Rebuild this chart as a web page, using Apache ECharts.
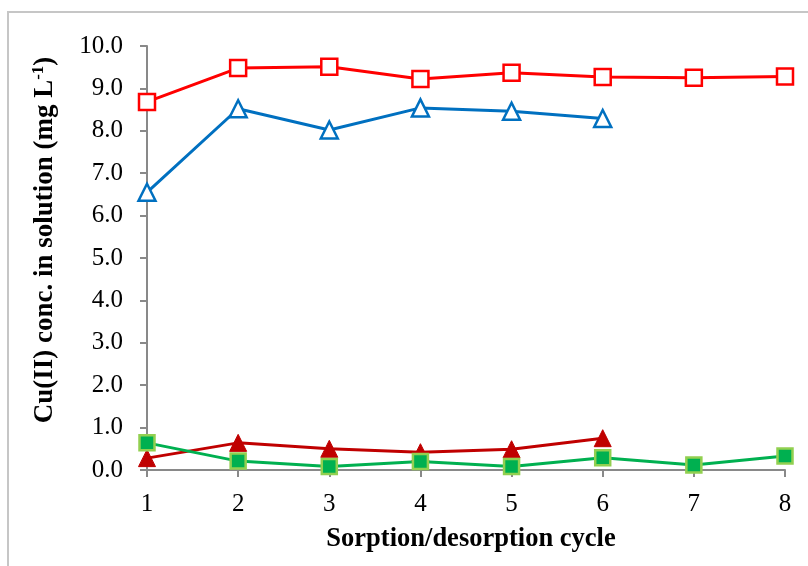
<!DOCTYPE html>
<html>
<head>
<meta charset="utf-8">
<script src="https://cdn.jsdelivr.net/npm/echarts@6/dist/echarts.min.js"></script>
<style>
  html, body { margin: 0; padding: 0; background: #fff; }
  #chart { width: 808px; height: 566px; }
</style>
</head>
<body>
<div id="chart"></div>
<script>
// Cycle numbers on the x axis
const cycles = [1, 2, 3, 4, 5, 6, 7, 8];
// Y axis tick values
const yTicks = [0, 1, 2, 3, 4, 5, 6, 7, 8, 9, 10];

// Cu(II) concentration per cycle (mg L-1)
const redOpenSquares = [8.68, 9.48, 9.51, 9.22, 9.37, 9.27, 9.25, 9.28];
const blueOpenTriangles = [6.55, 8.52, 8.02, 8.54, 8.46, 8.29];
const darkRedTriangles = [0.28, 0.64, 0.50, 0.42, 0.49, 0.75];
const greenSquares = [0.64, 0.21, 0.08, 0.20, 0.08, 0.29, 0.12, 0.33];

const pairs = (vals) => vals.map((v, i) => [cycles[i], v]);

const font = '"Liberation Serif", "Times New Roman", serif';
const axisGray = '#898989';

const chart = echarts.init(document.getElementById('chart'), null, { renderer: 'canvas' });

chart.setOption({
  backgroundColor: '#ffffff',
  animation: false,
  graphic: [
    {
      // outer frame (open to the right and bottom)
      type: 'rect',
      shape: { x: 8, y: 12, width: 900, height: 700 },
      style: { fill: 'none', stroke: '#c6c6c6', lineWidth: 2 },
      silent: true,
      z: -1
    },
    {
      // vertical axis title with superscript unit
      type: 'text',
      x: 45,
      y: 240,
      rotation: Math.PI / 2,
      silent: true,
      style: {
        text: 'Cu(II) conc. in solution (mg L{sup|-1})',
        fontFamily: font,
        fontWeight: 'bold',
        fontSize: 27,
        fill: '#000',
        align: 'center',
        verticalAlign: 'middle',
        rich: {
          sup: { fontFamily: font, fontWeight: 'bold', fontSize: 17, fill: '#000', verticalAlign: 'top', padding: [0, 0, 12, 0] }
        }
      }
    }
  ],
  grid: { left: 147, right: 23, top: 46, bottom: 96, containLabel: false },
  xAxis: {
    type: 'value',
    min: 1,
    max: 8,
    interval: 1,
    name: 'Sorption/desorption cycle',
    nameLocation: 'middle',
    nameGap: 56,
    nameTextStyle: { fontFamily: font, fontWeight: 'bold', fontSize: 26.5, color: '#000', padding: [0, 0, 0, 10] },
    axisLine: { show: true, lineStyle: { color: axisGray, width: 2 } },
    axisTick: { show: true, inside: false, length: 7, lineStyle: { color: axisGray, width: 2 } },
    axisLabel: { fontFamily: font, fontSize: 25, color: '#000', margin: 22 },
    splitLine: { show: false }
  },
  yAxis: {
    type: 'value',
    min: yTicks[0],
    max: yTicks[yTicks.length - 1],
    interval: 1,
    axisLine: { show: true, lineStyle: { color: axisGray, width: 2 } },
    axisTick: { show: true, inside: false, length: 7, lineStyle: { color: axisGray, width: 2 } },
    axisLabel: {
      fontFamily: font, fontSize: 25, color: '#000', margin: 24,
      formatter: (v) => v.toFixed(1)
    },
    splitLine: { show: false }
  },
  series: [
    {
      type: 'line',
      data: pairs(redOpenSquares),
      symbol: 'rect',
      symbolSize: 16,
      lineStyle: { color: '#ff0000', width: 3 },
      itemStyle: { color: '#ffffff', borderColor: '#ff0000', borderWidth: 2.5 },
      z: 3
    },
    {
      type: 'line',
      data: pairs(blueOpenTriangles),
      symbol: 'triangle',
      symbolSize: 17,
      lineStyle: { color: '#0070c0', width: 3 },
      itemStyle: { color: '#ffffff', borderColor: '#0070c0', borderWidth: 2.5 },
      z: 3
    },
    {
      type: 'line',
      data: pairs(darkRedTriangles),
      symbol: 'triangle',
      symbolSize: 17,
      lineStyle: { color: '#c00000', width: 3 },
      itemStyle: { color: '#c00000', borderColor: '#c00000', borderWidth: 1 },
      z: 3
    },
    {
      type: 'line',
      data: pairs(greenSquares),
      symbol: 'rect',
      symbolSize: 15,
      lineStyle: { color: '#00b050', width: 3 },
      itemStyle: { color: '#00b050', borderColor: '#92d050', borderWidth: 2.5 },
      z: 3
    }
  ]
});
</script>
</body>
</html>
